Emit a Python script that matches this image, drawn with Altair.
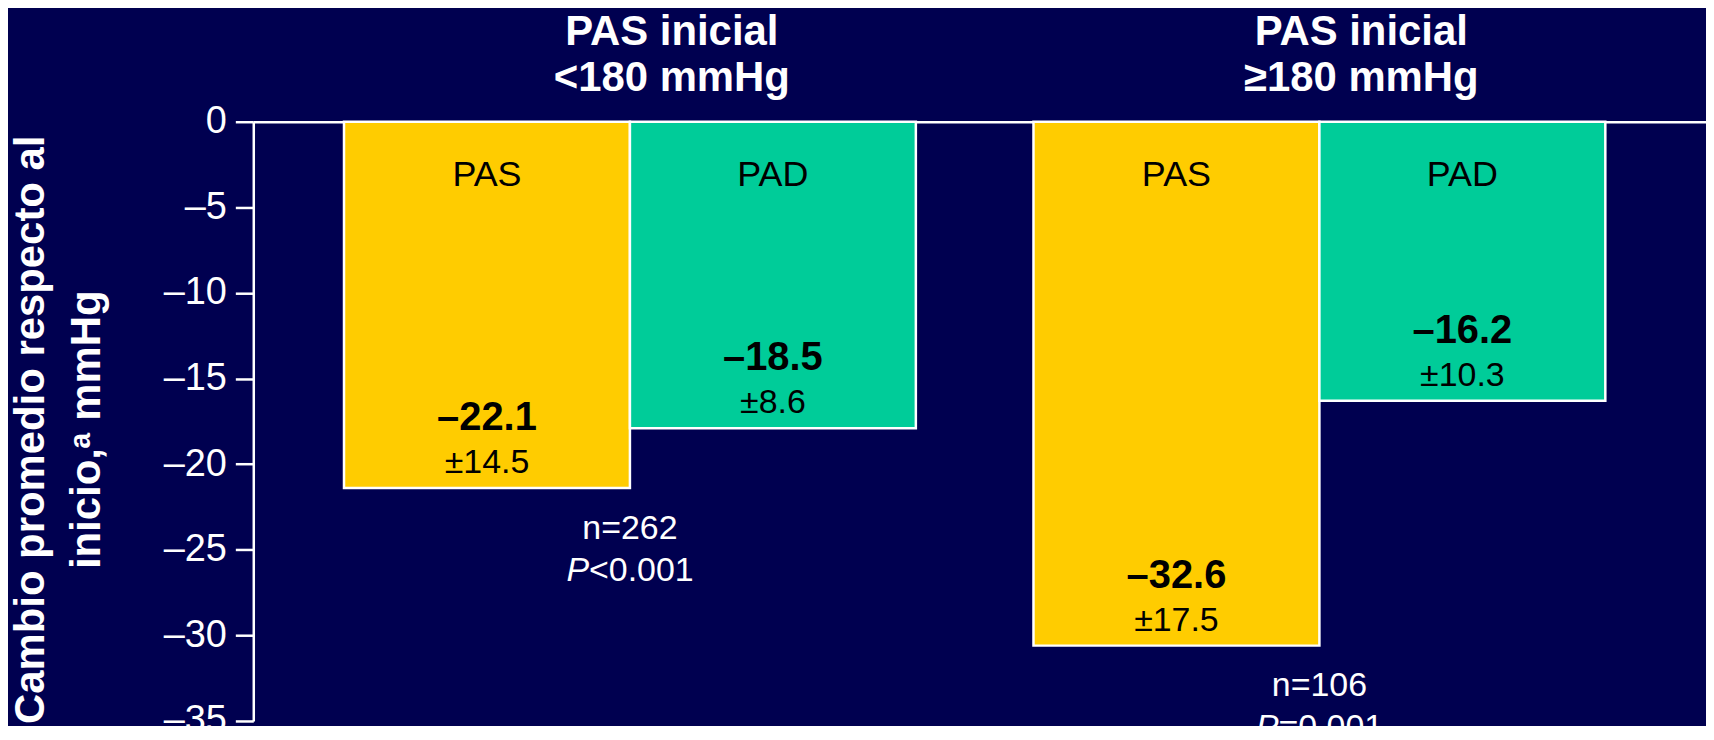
import altair as alt
import pandas as pd

# ---- data ----
groups = ["PAS inicial\n<180 mmHg", "PAS inicial\n≥180 mmHg"]
measures = ["PAS", "PAD"]
bar_group = [groups[0], groups[0], groups[1], groups[1]]
bar_measure = ["PAS", "PAD", "PAS", "PAD"]
bar_values = [-21.4, -17.9, -30.6, -16.3]
mean_labels = ["–22.1", "–18.5", "–32.6", "–16.2"]
sd_labels = ["±14.5", "±8.6", "±17.5", "±10.3"]
n_labels = ["n=262", "n=106"]
p_letter = ["P", "P"]
p_rest = ["<0.001", "=0.001"]
pas_ends = [-21.4, -30.6]
y_ticks = [0, -5, -10, -15, -20, -25, -30, -35]
y_title = "Cambio promedio respecto al\ninicio,ᵃ mmHg"

BG = "#000050"
YELLOW = "#FFCC00"
GREEN = "#00CC99"
FONT = "Liberation Sans"

bars_df = pd.DataFrame({
    "group": bar_group,
    "measure": bar_measure,
    "value": bar_values,
    "mean": mean_labels,
    "sd": sd_labels,
})
ann_df = pd.DataFrame({
    "group": groups,
    "n": n_labels,
    "pl": p_letter,
    "pr": p_rest,
    "end": pas_ends,
})
title_df = pd.DataFrame({"t": [y_title]})

x_enc = alt.X(
    "group:N",
    scale=alt.Scale(domain=groups, paddingInner=0.1706, paddingOuter=0.1388, align=0.474),
    axis=alt.Axis(orient="top", labels=False, ticks=False, title=None,
                  domainColor="white", domainWidth=2.5, grid=False),
)
xo_enc = alt.XOffset("measure:N", scale=alt.Scale(domain=measures, paddingInner=0, paddingOuter=0))
y_scale = alt.Scale(domain=[-35, 0], nice=False, zero=True)

bars = alt.Chart(bars_df).mark_bar(stroke="white", strokeWidth=2.5).encode(
    x=x_enc,
    xOffset=xo_enc,
    y=alt.Y("value:Q", scale=y_scale,
            axis=alt.Axis(values=y_ticks, title=None, grid=False,
                          labelExpr="datum.value < 0 ? '–' + abs(datum.value) : '' + datum.value",
                          domainColor="white", domainWidth=2.5,
                          tickColor="white", tickWidth=2.5, tickSize=18,
                          labelColor="white", labelFontSize=38, labelFont=FONT,
                          labelPadding=9)),
    color=alt.Color("measure:N", scale=alt.Scale(domain=measures, range=[YELLOW, GREEN]), legend=None),
)

base_bar_text = alt.Chart(bars_df)

measure_text = base_bar_text.mark_text(font=FONT, fontSize=36, color="black", baseline="alphabetic").encode(
    x="group:N", xOffset="measure:N", y=alt.value(64), text="measure:N")

mean_text = base_bar_text.mark_text(font=FONT, fontSize=40, fontWeight="bold", color="black",
                                    baseline="alphabetic", dy=-58).encode(
    x="group:N", xOffset="measure:N", y="value:Q", text="mean:N")

sd_text = base_bar_text.mark_text(font=FONT, fontSize=34, color="black",
                                  baseline="alphabetic", dy=-15).encode(
    x="group:N", xOffset="measure:N", y="value:Q", text="sd:N")

base_ann = alt.Chart(ann_df)

header = base_ann.mark_text(font=FONT, fontSize=42, fontWeight="bold", color="white",
                            baseline="alphabetic", lineBreak="\n", lineHeight=46, dx=42).encode(
    x="group:N", y=alt.value(-77), text="group:N")

n_text = base_ann.mark_text(font=FONT, fontSize=34, color="white", baseline="alphabetic", dy=51).encode(
    x="group:N", y="end:Q", text="n:N")

p_l = base_ann.mark_text(font=FONT, fontSize=34, fontStyle="italic", color="white",
                         baseline="alphabetic", align="right", dx=-41, dy=93).encode(
    x="group:N", y="end:Q", text="pl:N")

p_r = base_ann.mark_text(font=FONT, fontSize=34, color="white",
                         baseline="alphabetic", align="left", dx=-41, dy=93).encode(
    x="group:N", y="end:Q", text="pr:N")

ytitle = alt.Chart(title_df).mark_text(font=FONT, fontSize=42, fontWeight="bold", color="white",
                                       angle=270, align="center", baseline="alphabetic",
                                       lineBreak="\n", lineHeight=56).encode(
    x=alt.value(-210), y=alt.value(309), text="t:N")

chart = alt.layer(bars, measure_text, mean_text, sd_text, header, n_text, p_l, p_r, ytitle).properties(
    width=1457, height=601,
    padding={"left": 246, "top": 113, "right": 0, "bottom": 4},
    autosize=alt.AutoSizeParams(type="none"),
    background=BG,
).configure_view(stroke=None)

chart.save("out.html", embed_options={"renderer": "svg", "actions": False})
